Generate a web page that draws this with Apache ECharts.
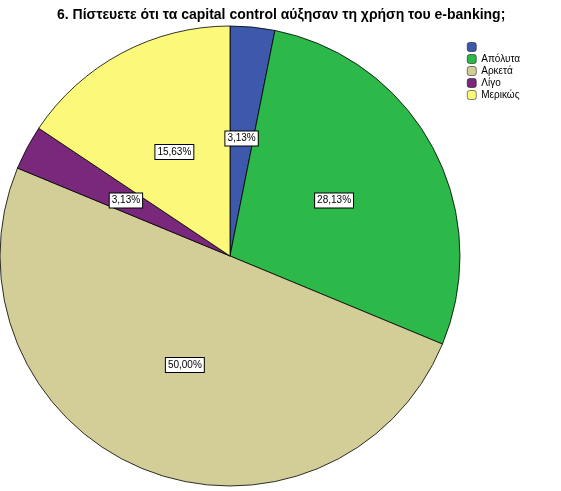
<!DOCTYPE html>
<html><head><meta charset="utf-8">
<script src="https://cdn.jsdelivr.net/npm/echarts@6/dist/echarts.min.js"></script>
<style>html,body{margin:0;padding:0;background:#fff}#c{width:561px;height:491px}</style>
</head><body><div id="c"></div>
<script>
const categories = ['', 'Απόλυτα', 'Αρκετά', 'Λίγο', 'Μερικώς'];
const values = [3.13, 28.13, 50.00, 3.13, 15.63];
const colors = ['#3e58ac', '#2db84a', '#d3ce97', '#79287c', '#fbf87a'];
const chart = echarts.init(document.getElementById('c'));
chart.setOption({
  animation: false,
  title: { text: '6. Πίστευετε ότι τα capital control αύξησαν τη χρήση του e-banking;', left: 52, top: 3,
    textStyle: { fontFamily: 'Liberation Sans, Arial', fontSize: 14, fontWeight: 'bold', color: '#000' } },
  legend: { orient: 'vertical', left: 462, top: 37, itemWidth: 9, itemHeight: 9, itemGap: 2,
    data: categories.map((c,i)=>({name: c === '' ? ' ' : c, itemStyle:{borderColor:'#000',borderWidth:0.5}})),
    textStyle: { fontFamily: 'Liberation Sans, Arial', fontSize: 10, color: '#000' } },
  series: [{
    type: 'pie', center: [230, 256], radius: [0, 230], startAngle: 90, clockwise: true,
    data: values.map((v,i)=>({ value: v, name: categories[i] === '' ? ' ' : categories[i], itemStyle: { color: colors[i] } })),
    itemStyle: { borderColor: '#000', borderWidth: 0.8 },
    label: { position: 'inside', formatter: p => p.value.toFixed(2).replace('.', ',') + '%',
      backgroundColor: '#fff', borderColor: '#000', borderWidth: 1, padding: [2,2],
      fontFamily: 'Liberation Sans, Arial', fontSize: 10, color: '#000' },
    labelLine: { show: false }, emphasis: { disabled: true }
  }]
});
</script></body></html>
